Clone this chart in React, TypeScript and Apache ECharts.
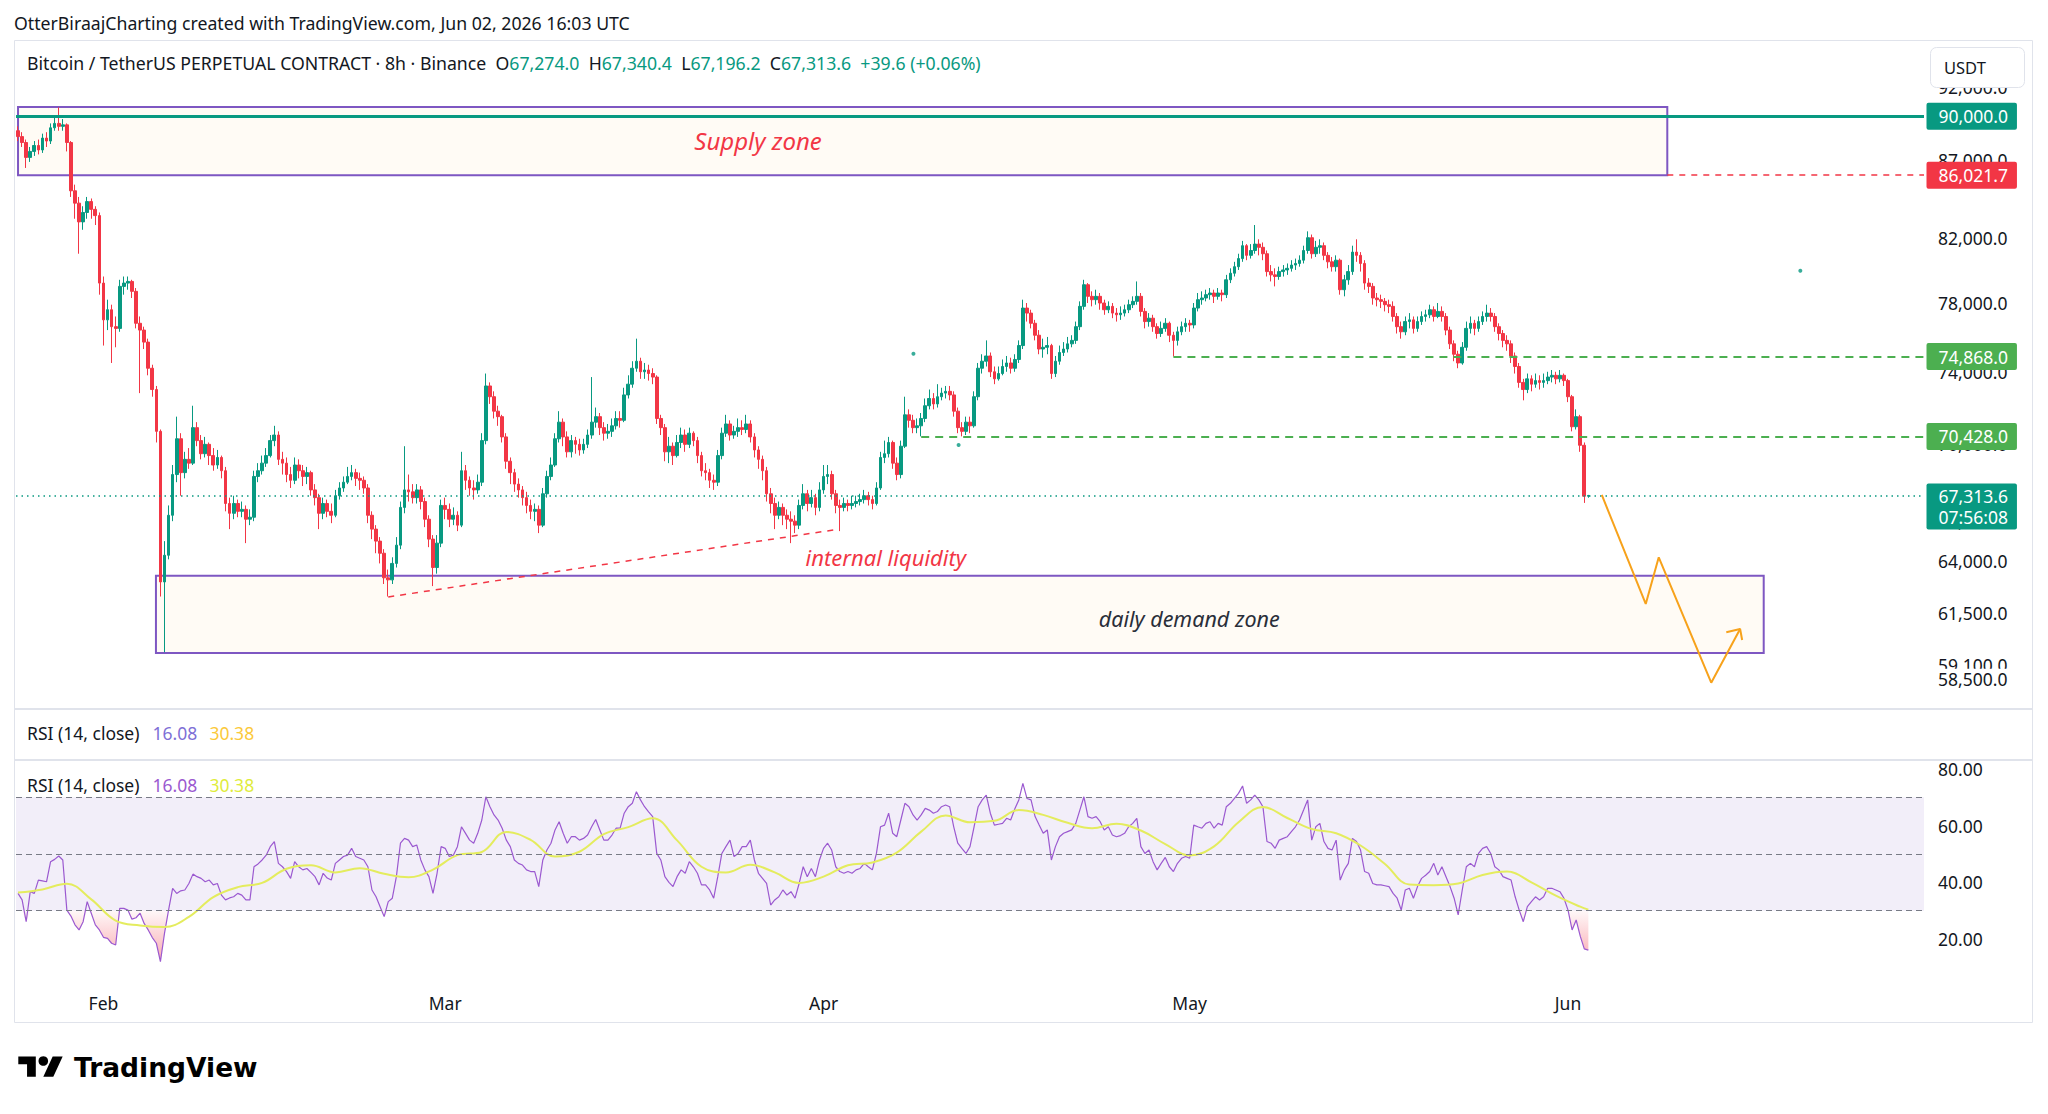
import React, { useEffect, useRef } from "react";
import * as echarts from "echarts";

const FONT = "'Noto Sans', 'DejaVu Sans', sans-serif";
const INK = "#131722";
const UP = "#089981";
const DOWN = "#f23645";
const LEVEL_GREEN = "#4caf50";
const ZONE_BORDER = "#7e57c2";
const ORANGE = "#f7a21b";
const UI_SIZE = 17.5;

// BTCUSDT.P, 8h bars from Jan 25 00:00 UTC, prices in thousands of USDT.
// Each bar opens at the previous bar's close.
const firstOpen = 89.0;
const closes = [
  88.6, 88.2, 87.2, 87.6, 88.0, 87.7, 88.5, 88.3, 89.2, 89.5,
  89.3, 89.4, 88.2, 85.0, 84.2, 83.0, 83.6, 84.3, 83.8, 83.4,
  79.2, 77.0, 77.6, 76.6, 76.5, 79.0, 79.2, 79.3, 78.7, 76.8,
  76.4, 75.7, 74.2, 73.0, 70.7, 63.0, 64.3, 66.3, 68.4, 70.3,
  68.5, 69.2, 69.0, 70.9, 70.2, 69.5, 70.0, 69.4, 68.9, 69.3,
  68.6, 66.9, 66.4, 66.9, 66.5, 66.6, 66.1, 66.2, 68.3, 68.6,
  69.0, 69.4, 70.2, 70.5, 69.2, 69.0, 68.4, 68.1, 68.9, 68.6,
  68.3, 68.5, 67.6, 67.2, 66.4, 66.9, 66.5, 66.3, 67.3, 67.7,
  68.0, 68.3, 68.5, 68.2, 68.1, 67.7, 66.3, 65.6, 65.0, 64.4,
  63.2, 63.1, 63.9, 64.8, 66.7, 67.6, 67.5, 67.2, 67.6, 67.0,
  66.1, 65.1, 63.7, 64.9, 66.8, 66.6, 66.1, 66.3, 65.8, 68.6,
  68.1, 67.7, 67.6, 68.0, 70.2, 73.2, 72.6, 71.8, 71.5, 70.4,
  69.1, 68.5, 67.9, 67.6, 67.2, 66.8, 66.5, 66.6, 65.8, 67.4,
  68.3, 68.9, 70.3, 71.2, 70.4, 69.6, 70.2, 70.0, 69.7, 70.0,
  70.5, 71.2, 71.5, 70.9, 70.6, 70.7, 71.0, 71.4, 71.3, 72.7,
  73.3, 74.2, 74.6, 74.0, 74.1, 73.9, 73.7, 71.4, 70.9, 69.6,
  69.9, 69.4, 70.1, 70.5, 70.0, 70.6, 70.2, 69.4, 68.6, 68.5,
  68.1, 68.0, 69.4, 70.6, 71.1, 70.5, 70.7, 70.9, 70.8, 71.1,
  70.4, 69.7, 69.2, 68.6, 67.4, 66.9, 66.3, 66.7, 66.3, 66.1,
  66.0, 65.8, 66.8, 67.4, 66.9, 67.2, 66.7, 67.6, 68.3, 68.4,
  67.4, 66.8, 66.7, 66.9, 66.8, 66.9, 67.0, 67.1, 67.3, 67.1,
  66.9, 67.7, 69.3, 69.5, 70.1, 69.0, 68.4, 69.9, 71.6, 71.3,
  70.9, 71.0, 71.4, 72.1, 72.5, 72.2, 72.6, 72.8, 72.9, 72.7,
  71.8, 70.9, 70.7, 71.2, 71.0, 72.6, 74.2, 74.6, 74.9, 74.0,
  73.6, 73.9, 74.3, 74.5, 74.2, 74.7, 75.5, 77.7, 77.4, 76.8,
  76.1, 75.3, 75.4, 75.5, 73.9, 74.6, 75.1, 75.3, 75.6, 75.8,
  76.6, 77.8, 79.1, 78.4, 78.2, 78.4, 78.0, 77.6, 77.8, 77.4,
  77.3, 77.4, 77.6, 77.9, 78.1, 78.4, 77.5, 76.9, 77.1, 76.6,
  76.2, 76.5, 76.8, 76.1, 75.8, 76.3, 76.6, 76.8, 76.7, 77.7,
  78.2, 78.3, 78.5, 78.6, 78.4, 78.6, 78.5, 79.4, 79.8, 80.2,
  80.7, 81.5, 80.9, 81.2, 81.6, 81.4, 81.0, 79.9, 79.7, 79.6,
  79.9, 80.0, 80.1, 80.3, 80.4, 80.6, 81.2, 82.0, 81.0, 81.4,
  81.5, 80.9, 80.5, 80.2, 80.6, 78.8, 79.4, 79.9, 81.1, 80.9,
  80.4, 79.2, 79.0, 78.3, 78.2, 78.1, 77.9, 77.8, 77.2, 76.6,
  76.3, 76.9, 77.0, 76.5, 76.9, 77.2, 77.3, 77.6, 77.2, 77.5,
  77.2, 76.4, 75.6, 75.0, 74.5, 75.4, 76.5, 76.8, 76.5, 76.9,
  77.2, 77.4, 77.2, 76.6, 76.2, 75.8, 75.6, 74.9, 74.3, 73.4,
  73.0, 73.6, 73.3, 73.5, 73.4, 73.5, 73.7, 73.8, 73.6, 73.8,
  73.5, 72.6, 70.95, 71.5, 69.95, 67.274, 67.3136,
];
const highs = [
  89.3, 88.9, 88.4, 87.9, 88.3, 88.4, 88.8, 88.9, 89.5, 89.9,
  90.6, 89.8, 89.5, 88.3, 85.4, 84.6, 84.0, 84.6, 84.5, 84.0,
  83.6, 79.6, 78.2, 77.9, 77.2, 79.4, 79.6, 79.6, 79.4, 78.9,
  77.2, 76.6, 75.9, 74.4, 73.2, 70.8, 65.0, 66.8, 68.9, 71.5,
  70.6, 69.6, 69.8, 72.1, 71.2, 70.5, 70.4, 70.1, 69.8, 69.7,
  69.4, 68.8, 67.2, 67.3, 67.1, 67.0, 66.8, 66.6, 68.6, 69.0,
  69.4, 69.8, 70.5, 71.0, 70.7, 69.6, 69.3, 68.8, 69.3, 69.2,
  68.9, 68.8, 68.6, 67.9, 67.4, 67.2, 67.1, 66.9, 67.6, 68.0,
  68.3, 68.8, 68.9, 68.7, 68.5, 68.3, 67.9, 66.5, 65.8, 65.2,
  64.6, 63.6, 64.2, 65.2, 67.0, 69.9, 68.4, 67.9, 67.9, 67.8,
  67.2, 66.3, 65.3, 65.3, 67.1, 67.2, 66.9, 66.7, 66.5, 69.6,
  68.9, 68.3, 68.1, 68.4, 70.6, 73.9, 73.4, 72.9, 72.1, 71.6,
  70.6, 69.3, 68.7, 68.2, 67.8, 67.5, 67.1, 66.9, 66.8, 67.7,
  68.6, 69.3, 70.6, 71.8, 71.4, 70.7, 70.5, 70.4, 70.3, 70.3,
  70.8, 73.7, 72.0, 71.7, 71.2, 71.1, 71.4, 71.8, 71.8, 73.1,
  73.8, 74.6, 75.9, 74.8, 74.5, 74.4, 74.2, 73.8, 71.6, 71.1,
  70.4, 70.1, 70.5, 70.9, 70.8, 70.9, 70.7, 70.4, 69.6, 69.0,
  68.7, 68.4, 69.7, 70.9, 71.6, 71.3, 71.0, 71.4, 71.3, 71.6,
  71.3, 70.6, 69.9, 69.4, 68.8, 67.7, 67.2, 67.0, 66.9, 66.6,
  66.5, 66.3, 67.1, 67.9, 67.6, 67.6, 67.4, 68.0, 68.9, 68.9,
  68.6, 67.6, 67.1, 67.2, 67.1, 67.3, 67.3, 67.4, 67.6, 67.5,
  67.3, 68.0, 69.6, 70.2, 70.4, 70.2, 69.3, 70.2, 72.6, 71.9,
  71.6, 71.4, 71.7, 72.5, 73.0, 72.8, 73.3, 73.1, 73.2, 73.2,
  72.9, 72.0, 71.2, 71.5, 71.5, 72.9, 74.5, 75.0, 75.8, 75.1,
  74.3, 74.3, 74.7, 74.9, 74.8, 75.0, 75.8, 78.2, 78.0, 77.6,
  77.0, 76.4, 75.9, 76.0, 75.6, 74.9, 75.5, 75.7, 76.0, 76.1,
  76.9, 78.1, 79.4, 79.2, 78.7, 78.8, 78.6, 78.2, 78.1, 78.0,
  77.7, 77.8, 77.9, 78.2, 78.4, 79.3, 78.6, 77.7, 77.4, 77.3,
  76.8, 76.9, 77.1, 76.9, 76.3, 76.6, 76.9, 77.1, 77.0, 78.0,
  78.6, 78.7, 78.8, 78.9, 78.8, 78.9, 78.8, 79.7, 80.1, 80.5,
  81.0, 81.8, 81.6, 81.6, 82.8, 81.9, 81.7, 81.2, 80.3, 80.1,
  80.2, 80.3, 80.4, 80.6, 80.7, 80.9, 81.5, 82.4, 82.2, 81.8,
  81.9, 81.7, 81.1, 80.8, 80.9, 80.7, 79.7, 80.3, 81.5, 81.9,
  81.1, 80.6, 79.5, 79.2, 78.6, 78.5, 78.3, 78.2, 78.1, 77.4,
  76.9, 77.2, 77.4, 77.2, 77.2, 77.5, 77.6, 77.9, 77.8, 78.0,
  77.8, 77.4, 76.6, 75.8, 75.2, 75.7, 76.9, 77.2, 77.0, 77.2,
  77.5, 77.9, 77.7, 77.4, 76.8, 76.4, 76.1, 75.8, 75.1, 74.5,
  73.6, 73.9, 73.8, 73.9, 73.8, 73.9, 74.0, 74.1, 74.0, 74.1,
  73.9, 73.6, 72.7, 71.9, 71.6, 70.1, 67.3404,
];
const lows = [
  88.3, 87.9, 86.5, 86.9, 87.3, 87.4, 87.5, 87.9, 88.1, 89.0,
  89.0, 89.0, 87.6, 84.6, 83.2, 81.0, 82.5, 83.2, 83.2, 82.8,
  78.5, 75.5, 76.4, 74.5, 75.4, 76.3, 78.5, 78.8, 78.3, 76.5,
  72.8, 75.3, 73.8, 72.6, 70.1, 62.3, 59.7, 64.1, 66.0, 68.0,
  67.3, 68.2, 68.7, 68.9, 69.9, 69.2, 69.3, 68.9, 68.6, 68.7,
  68.2, 66.5, 65.6, 66.1, 66.2, 66.2, 64.9, 65.8, 66.0, 68.0,
  68.4, 68.8, 69.3, 69.9, 68.9, 68.4, 68.0, 67.7, 67.9, 68.2,
  67.8, 67.9, 67.3, 66.8, 65.6, 66.1, 66.2, 65.9, 66.2, 67.1,
  67.5, 67.9, 68.1, 67.8, 67.6, 67.4, 65.9, 65.1, 64.4, 63.9,
  62.9, 62.3, 62.9, 63.7, 64.6, 66.4, 67.0, 66.9, 66.9, 66.6,
  65.7, 64.7, 62.8, 63.4, 64.7, 66.1, 65.7, 65.8, 65.5, 65.7,
  67.6, 67.3, 67.1, 67.4, 67.8, 70.0, 72.2, 71.4, 71.0, 70.1,
  68.7, 67.9, 67.5, 67.2, 66.8, 66.4, 66.1, 66.0, 65.4, 65.7,
  67.2, 68.1, 68.8, 70.1, 69.9, 69.3, 69.3, 69.5, 69.4, 69.5,
  69.8, 70.3, 70.9, 70.5, 70.2, 70.3, 70.4, 70.8, 70.9, 71.2,
  72.5, 73.1, 74.0, 73.6, 73.6, 73.5, 73.3, 71.1, 70.5, 69.1,
  69.0, 68.9, 69.3, 69.8, 69.6, 69.8, 69.9, 69.0, 68.3, 68.1,
  67.7, 67.6, 67.8, 69.2, 70.4, 70.2, 70.3, 70.4, 70.5, 70.6,
  70.1, 69.3, 68.7, 68.1, 67.0, 66.4, 65.6, 66.1, 65.8, 65.6,
  64.9, 65.4, 65.6, 66.6, 66.5, 66.7, 66.3, 66.5, 67.4, 67.9,
  67.1, 66.4, 65.5, 66.5, 66.5, 66.6, 66.7, 66.8, 66.9, 66.8,
  66.6, 66.8, 67.6, 69.0, 69.3, 68.7, 68.1, 68.2, 69.8, 70.9,
  70.6, 70.6, 70.43, 71.2, 71.9, 71.9, 72.0, 72.4, 72.5, 72.4,
  71.5, 70.6, 70.43, 70.5, 70.6, 70.9, 72.4, 73.9, 74.3, 73.7,
  73.3, 73.5, 73.8, 74.0, 73.9, 74.0, 74.5, 75.3, 76.9, 76.5,
  75.8, 75.0, 74.8, 75.0, 73.6, 73.7, 74.4, 74.9, 75.1, 75.4,
  75.6, 76.4, 77.6, 78.0, 77.8, 77.9, 77.6, 77.3, 77.4, 77.1,
  76.9, 77.0, 77.2, 77.4, 77.7, 77.9, 77.2, 76.5, 76.6, 76.3,
  75.9, 76.0, 76.3, 75.7, 74.87, 75.5, 76.1, 76.3, 76.3, 76.5,
  77.5, 77.9, 78.1, 78.2, 78.0, 78.2, 78.1, 78.3, 79.2, 79.6,
  80.0, 80.5, 80.6, 80.7, 81.0, 80.9, 80.6, 79.6, 79.3, 79.0,
  79.4, 79.6, 79.7, 79.9, 80.0, 80.2, 80.4, 81.0, 80.7, 80.8,
  81.0, 80.6, 80.1, 79.9, 79.9, 78.5, 78.4, 79.1, 79.7, 80.5,
  79.9, 78.8, 78.6, 77.9, 77.8, 77.7, 77.5, 77.4, 76.9, 76.2,
  75.9, 76.1, 76.5, 76.2, 76.3, 76.7, 76.9, 77.1, 76.9, 77.1,
  76.9, 76.1, 75.3, 74.6, 74.2, 74.4, 75.2, 76.2, 76.1, 76.3,
  76.7, 76.9, 76.9, 76.3, 75.8, 75.4, 75.2, 74.5, 73.9, 73.1,
  72.4, 72.8, 72.9, 73.1, 73.0, 73.1, 73.3, 73.4, 73.3, 73.4,
  73.2, 72.3, 70.7, 70.8, 69.6, 66.93, 67.1962,
];
const THOUSAND = 1000;
const emptyBarsRight = 82;

// RSI(14, close), one value per bar
const rsiValues = [
  36.1, 33.8, 26.1, 36.7, 36.1, 40.8, 40.5, 40.2, 47.3, 48.1,
  49.3, 47.9, 30.2, 28.1, 25.0, 23.2, 26.1, 33.2, 29.1, 25.0,
  23.2, 20.6, 20.2, 18.5, 17.9, 30.8, 30.8, 30.2, 27.0, 27.5,
  29.1, 25.5, 23.2, 20.5, 18.5, 12.0, 22.0, 30.2, 37.9, 36.1,
  37.0, 37.3, 39.6, 42.9, 42.0, 41.4, 40.2, 40.8, 39.1, 39.6,
  35.5, 33.8, 34.5, 34.9, 36.1, 35.5, 33.8, 33.8, 45.5, 46.5,
  47.9, 49.6, 52.6, 54.4, 46.7, 45.5, 43.8, 41.4, 47.3, 45.5,
  44.4, 44.9, 43.5, 42.0, 39.1, 43.2, 41.5, 40.8, 46.7, 47.9,
  49.1, 49.6, 52.0, 49.1, 48.5, 47.9, 45.5, 37.3, 34.9, 31.4,
  27.9, 33.2, 34.4, 42.0, 53.8, 55.5, 54.9, 52.6, 53.2, 47.9,
  44.4, 42.0, 36.1, 43.2, 52.6, 52.0, 49.1, 49.6, 52.6, 59.6,
  57.3, 54.9, 53.8, 57.3, 62.0, 70.2, 66.7, 63.8, 62.0, 59.1,
  55.0, 52.6, 47.9, 46.7, 46.1, 44.4, 43.8, 43.8, 38.5, 47.9,
  51.4, 53.8, 58.5, 61.4, 57.3, 53.8, 56.1, 56.1, 54.9, 55.5,
  56.7, 59.6, 62.2, 58.5, 54.9, 54.9, 56.7, 59.1, 59.1, 64.4,
  66.7, 67.9, 72.0, 69.1, 66.7, 64.9, 63.2, 50.2, 47.9, 42.0,
  40.0, 38.5, 42.0, 44.4, 43.2, 47.3, 45.5, 43.2, 39.1, 39.1,
  37.3, 34.4, 42.0, 50.2, 52.6, 54.9, 49.1, 50.2, 52.6, 52.6,
  54.9, 47.9, 43.2, 41.4, 39.6, 32.0, 33.8, 34.9, 37.3, 35.5,
  36.7, 34.4, 39.6, 45.5, 42.0, 44.9, 42.0, 47.9, 52.0, 53.8,
  51.4, 45.5, 43.8, 43.2, 43.8, 43.2, 44.4, 44.9, 46.7, 45.5,
  44.4, 50.2, 59.6, 60.2, 64.4, 57.3, 56.1, 62.0, 67.9, 66.7,
  63.8, 62.0, 63.8, 66.1, 65.5, 64.4, 65.0, 66.7, 67.3, 66.7,
  59.6, 53.8, 52.0, 50.2, 52.6, 59.6, 66.7, 69.1, 70.8, 64.4,
  60.2, 60.5, 60.8, 62.6, 62.0, 65.9, 69.1, 74.9, 69.6, 69.1,
  63.2, 60.2, 57.3, 58.5, 47.9, 52.6, 56.1, 57.3, 57.9, 58.5,
  60.8, 65.5, 70.2, 63.2, 62.6, 63.2, 61.4, 58.5, 59.6, 56.7,
  56.1, 56.5, 57.3, 59.6, 60.8, 62.6, 52.6, 50.2, 51.4, 47.3,
  44.4, 46.7, 48.8, 45.5, 43.8, 46.7, 48.5, 49.1, 48.5, 60.2,
  59.6, 59.1, 60.8, 61.4, 59.1, 60.8, 60.2, 66.7, 67.9, 69.6,
  71.4, 74.0, 67.9, 69.1, 70.8, 69.1, 66.7, 54.4, 53.8, 52.0,
  54.9, 55.5, 56.1, 57.9, 59.6, 62.0, 65.5, 69.1, 54.9, 59.6,
  60.8, 54.4, 52.0, 51.4, 54.9, 40.8, 44.4, 46.7, 55.5, 54.4,
  51.4, 43.8, 43.2, 39.6, 39.1, 39.1, 38.8, 38.5, 36.1, 34.4,
  30.2, 37.3, 37.9, 34.4, 38.5, 41.4, 42.5, 43.8, 46.7, 42.6,
  45.5, 42.0, 38.5, 34.4, 28.5, 37.3, 45.5, 46.7, 45.5, 50.2,
  52.0, 52.6, 50.2, 45.5, 44.4, 42.0, 41.4, 40.8, 34.9, 30.2,
  26.1, 31.4, 33.2, 34.9, 33.8, 34.9, 37.9, 37.9, 37.3, 36.7,
  34.4, 30.2, 23.2, 26.7, 21.0, 16.5, 16.08,
];

// RSI-based moving average, [bar, value]
const rsiMaPoints: [number, number][] = [
  [0, 36.4], [6, 37.5], [12, 39.5], [18, 34.0], [24, 26.5], [30, 24.8],
  [36, 24.2], [42, 27.8], [48, 34.8], [54, 38.3], [60, 39.8], [66, 44.8],
  [72, 46.0], [78, 43.5], [84, 45.0], [90, 43.0], [96, 41.8], [102, 44.5],
  [108, 49.6], [114, 50.7], [120, 57.8], [126, 55.0], [132, 49.1], [138, 50.8],
  [144, 57.0], [150, 59.5], [156, 62.6], [162, 54.8], [168, 45.5], [174, 43.5],
  [180, 46.2], [186, 43.5], [192, 39.8], [198, 42.0], [204, 46.0], [210, 47.0],
  [216, 50.5], [222, 57.9], [228, 63.6], [234, 61.2], [240, 61.7], [246, 65.5],
  [252, 63.8], [258, 61.0], [264, 59.1], [270, 60.7], [276, 58.3], [282, 53.5],
  [288, 49.5], [294, 52.7], [300, 61.2], [306, 66.6], [312, 62.7], [318, 58.8],
  [324, 57.3], [330, 53.0], [336, 46.5], [342, 39.2], [348, 39.0], [354, 39.6],
  [360, 42.6], [366, 43.8], [372, 40.0], [378, 35.3], [384, 31.4], [386, 30.38],
];

const monthStartBars = [21, 105, 198, 288, 381];
const monthNames = ["Feb", "Mar", "Apr", "May", "Jun"];
// price scale labels; 58,500 is listed after 59,100 so it is drawn over it
const priceTicks = [92000, 87000, 82000, 78000, 74000, 70000, 66000, 59100, 58500, 64000, 61500];
const rsiTicks = [80, 60, 40, 20];

const resistanceLevel = 90000.0;
const supplyLevel = 86021.7;
const upperSupport = 74868.0;
const lowerSupport = 70428.0;
const barCountdown = "07:56:08";

// zones as [fromBar, toBar, topPrice, bottomPrice]
const supplyZone = [0, 405.4, 90630, 86021.7];
const demandZone = [33.9, 429.1, 63300, 59660];
const upperSupportFromBar = 284;
const lowerSupportFromBar = 222;
const liquidityLine = [[91, 62280], [202, 65606]];
const projectionPath = [[389.3, 67337], [400.1, 61947], [403.3, 64201], [416.2, 58321], [423.3, 60770]];
const projectionArrow = [[419.9, 60617], [423.3, 60770], [423.8, 60261]];
const markerDots = [[220.1, 75030], [231.2, 69965], [438.1, 79954]];
// [text, bar, price]
const notes: [string, number, number][] = [
  ["Supply zone", 181.9, 88370],
  ["internal liquidity", 213.3, 64217],
  ["daily demand zone", 287.9, 61240],
];

const priceAxisMin = 57159;
const priceAxisMax = 95330;
const rsiAxisMin = 3.765;
const rsiAxisMax = 82.824;

echarts.graphic.registerShape(
  "tvMark",
  echarts.graphic.extendPath("M14 22H7V11H0V4h14v18zM28 22h-8l7.5-18h8L28 22z", {})
);

const fmtPrice = (v: number) =>
  v.toLocaleString("en-US", { minimumFractionDigits: 1, maximumFractionDigits: 1 });

export default function App() {
  const ref = useRef<HTMLDivElement>(null);

  useEffect(() => {
    if (!ref.current) return;
    const chart = echarts.init(ref.current, undefined, { renderer: "svg" });

    const n = closes.length;
    const xMax = n + emptyBarsRight - 0.5;
    const bars = closes.map((c, i) => [
      i,
      (i === 0 ? firstOpen : closes[i - 1]) * THOUSAND,
      c * THOUSAND,
      lows[i] * THOUSAND,
      highs[i] * THOUSAND,
    ]);
    const last = bars[n - 1];
    const lastOpen = last[1], lastClose = last[2], lastLow = last[3], lastHigh = last[4];
    const change = lastClose - lastOpen;
    const changePct = (change / lastOpen) * 100;
    const sign = change >= 0 ? "+" : "−";
    const rsiLast = rsiValues[n - 1].toFixed(2);
    const maLast = rsiMaPoints[rsiMaPoints.length - 1][1].toFixed(2);

    const tag = (value: number, bg: string, text?: string, extra?: object) => ({
      coord: [xMax, value],
      label: {
        show: true,
        position: "right",
        distance: 2,
        formatter: text ?? fmtPrice(value),
        color: "#ffffff",
        backgroundColor: bg,
        padding: [4, 9, 4, 12],
        fontSize: UI_SIZE,
        lineHeight: 19,
        fontFamily: FONT,
        borderRadius: 2,
        ...(extra || {}),
      },
    });

    const noteStyle = [
      { color: DOWN, fontSize: 24 },
      { color: DOWN, fontSize: 22 },
      { color: "#2a2e39", fontSize: 21.5 },
    ];

    const legend = (y: number, rsiColor: string, maColor: string) => ({
      type: "text",
      x: 27,
      y,
      z: 10,
      style: {
        text: `RSI (14, close)  {a|${rsiLast}}  {b|${maLast}}`,
        fill: INK,
        fontSize: UI_SIZE,
        fontFamily: FONT,
        verticalAlign: "middle",
        rich: {
          a: { fill: rsiColor, fontSize: UI_SIZE, fontFamily: FONT, padding: [0, 0, 0, 4] },
          b: { fill: maColor, fontSize: UI_SIZE, fontFamily: FONT, padding: [0, 0, 0, 3] },
        },
      },
    });

    const option: any = {
      animation: false,
      backgroundColor: "#ffffff",
      grid: [
        { left: 16, top: 41, width: 1908, height: 668, outerBoundsMode: "none" },
        { left: 16, top: 761, width: 1908, height: 224, outerBoundsMode: "none" },
      ],
      xAxis: [
        { type: "value", gridIndex: 0, min: -0.5, max: xMax, show: false },
        {
          type: "value",
          gridIndex: 1,
          min: -0.5,
          max: xMax,
          axisLine: { show: false },
          axisTick: { show: false },
          splitLine: { show: false },
          axisLabel: {
            customValues: monthStartBars,
            formatter: (v: number) => monthNames[monthStartBars.indexOf(v)] ?? "",
            margin: 9,
            fontSize: UI_SIZE,
            color: INK,
            fontFamily: FONT,
          },
        },
      ],
      yAxis: [
        {
          type: "log",
          logBase: 10,
          gridIndex: 0,
          min: priceAxisMin,
          max: priceAxisMax,
          position: "right",
          axisLine: { show: false },
          axisTick: { show: false },
          splitLine: { show: false },
          axisLabel: {
            customValues: priceTicks,
            hideOverlap: false,
            formatter: (v: number) => fmtPrice(v),
            margin: 14,
            fontSize: UI_SIZE,
            color: INK,
            fontFamily: FONT,
            backgroundColor: "#ffffff",
            padding: [1, 0, 1, 0],
          },
        },
        {
          type: "value",
          gridIndex: 1,
          min: rsiAxisMin,
          max: rsiAxisMax,
          position: "right",
          axisLine: { show: false },
          axisTick: { show: false },
          splitLine: { show: false },
          axisLabel: {
            customValues: rsiTicks,
            formatter: (v: number) => v.toFixed(2),
            margin: 14,
            fontSize: UI_SIZE,
            color: INK,
            fontFamily: FONT,
          },
        },
      ],
      series: [
        {
          name: "zones",
          type: "line",
          xAxisIndex: 0,
          yAxisIndex: 0,
          data: [],
          z: 1,
          markArea: {
            silent: true,
            itemStyle: { color: "rgba(255,236,204,0.2)", borderColor: ZONE_BORDER, borderWidth: 2 },
            data: [
              [{ coord: [supplyZone[0], supplyZone[2]] }, { coord: [supplyZone[1], supplyZone[3]] }],
              [{ coord: [demandZone[0], demandZone[2]] }, { coord: [demandZone[1], demandZone[3]] }],
            ],
          },
        },
        {
          name: "BTCUSDT.P",
          type: "candlestick",
          xAxisIndex: 0,
          yAxisIndex: 0,
          data: bars,
          encode: { x: 0, y: [1, 2, 3, 4] },
          barWidth: 3.2,
          z: 3,
          itemStyle: { color: UP, color0: DOWN, borderColor: UP, borderColor0: DOWN, borderWidth: 1 },
        },
        {
          name: "levels",
          type: "line",
          xAxisIndex: 0,
          yAxisIndex: 0,
          data: [],
          z: 4,
          markLine: {
            silent: true,
            symbol: ["none", "none"],
            label: { show: false },
            data: [
              { yAxis: resistanceLevel, lineStyle: { color: UP, width: 3, type: "solid" } },
              [
                { coord: [supplyZone[1], supplyLevel], lineStyle: { color: DOWN, width: 1.5, type: [6, 6] } },
                { coord: [xMax, supplyLevel] },
              ],
              [
                { coord: [upperSupportFromBar, upperSupport], lineStyle: { color: LEVEL_GREEN, width: 2, type: [8, 6] } },
                { coord: [xMax, upperSupport] },
              ],
              [
                { coord: [lowerSupportFromBar, lowerSupport], lineStyle: { color: LEVEL_GREEN, width: 2, type: [8, 6] } },
                { coord: [xMax, lowerSupport] },
              ],
              { yAxis: lastClose, lineStyle: { color: UP, width: 1.5, type: [1.5, 4] } },
              [
                { coord: liquidityLine[0], lineStyle: { color: DOWN, width: 1.5, type: [6, 6] } },
                { coord: liquidityLine[1] },
              ],
            ],
          },
        },
        {
          name: "projection",
          type: "line",
          xAxisIndex: 0,
          yAxisIndex: 0,
          data: projectionPath,
          symbol: "none",
          z: 5,
          lineStyle: { color: ORANGE, width: 2 },
        },
        {
          name: "projection arrow",
          type: "line",
          xAxisIndex: 0,
          yAxisIndex: 0,
          data: projectionArrow,
          symbol: "none",
          z: 5,
          lineStyle: { color: ORANGE, width: 2 },
        },
        {
          name: "markers",
          type: "scatter",
          xAxisIndex: 0,
          yAxisIndex: 0,
          data: markerDots,
          symbolSize: 4,
          itemStyle: { color: UP },
          z: 5,
        },
        {
          name: "notes",
          type: "line",
          xAxisIndex: 0,
          yAxisIndex: 0,
          data: [],
          z: 6,
          markPoint: {
            silent: true,
            symbol: "rect",
            symbolSize: 1,
            itemStyle: { color: "rgba(0,0,0,0)" },
            data: notes.map(([text, bar, price], k) => ({
              coord: [bar, price],
              label: {
                show: true,
                position: "inside",
                formatter: text,
                fontStyle: "italic",
                fontFamily: FONT,
                ...noteStyle[k],
              },
            })),
          },
        },
        {
          name: "price tags",
          type: "line",
          xAxisIndex: 0,
          yAxisIndex: 0,
          data: [],
          z: 8,
          markPoint: {
            silent: true,
            symbol: "rect",
            symbolSize: 1,
            itemStyle: { color: "rgba(0,0,0,0)" },
            data: [
              tag(resistanceLevel, UP),
              tag(supplyLevel, DOWN),
              tag(upperSupport, LEVEL_GREEN),
              tag(lowerSupport, LEVEL_GREEN),
              tag(lastClose, UP, `${fmtPrice(lastClose)}\n${barCountdown}`, {
                lineHeight: 21,
                padding: [2, 9, 2, 12],
                offset: [0, 11],
              }),
            ],
          },
        },
        {
          name: "RSI levels",
          type: "line",
          xAxisIndex: 1,
          yAxisIndex: 1,
          data: [],
          z: 1,
          markArea: {
            silent: true,
            itemStyle: { color: "rgba(126,87,194,0.1)" },
            data: [[{ yAxis: 70 }, { yAxis: 30 }]],
          },
          markLine: {
            silent: true,
            symbol: ["none", "none"],
            label: { show: false },
            lineStyle: { color: "#787b86", width: 1, type: [6, 4] },
            data: [{ yAxis: 70 }, { yAxis: 50 }, { yAxis: 30 }],
          },
        },
        {
          name: "RSI oversold",
          type: "line",
          xAxisIndex: 1,
          yAxisIndex: 1,
          data: rsiValues.map((v, i) => [i, Math.min(v, 30)]),
          symbol: "none",
          z: 2,
          lineStyle: { width: 0 },
          areaStyle: {
            origin: 30,
            color: new echarts.graphic.LinearGradient(0, 0, 0, 1, [
              { offset: 0, color: "rgba(242,54,69,0.05)" },
              { offset: 1, color: "rgba(242,54,69,0.6)" },
            ]),
          },
        },
        {
          name: "RSI",
          type: "line",
          xAxisIndex: 1,
          yAxisIndex: 1,
          data: rsiValues.map((v, i) => [i, v]),
          symbol: "none",
          z: 3,
          lineStyle: { color: "#9b59d0", width: 1.2 },
        },
        {
          name: "RSI MA",
          type: "line",
          xAxisIndex: 1,
          yAxisIndex: 1,
          data: rsiMaPoints,
          symbol: "none",
          smooth: 0.4,
          z: 3,
          lineStyle: { color: "#e4ec5e", width: 2 },
        },
      ],
      graphic: {
        elements: [
          {
            type: "rect",
            silent: true,
            z: 0,
            shape: { x: 14.5, y: 40.5, width: 2018, height: 982 },
            style: { fill: "none", stroke: "#e0e3eb", lineWidth: 1 },
          },
          { type: "rect", silent: true, z: 10, shape: { x: 15, y: 708, width: 2017, height: 2 }, style: { fill: "#e0e3eb" } },
          { type: "rect", silent: true, z: 10, shape: { x: 15, y: 759, width: 2017, height: 2 }, style: { fill: "#e0e3eb" } },
          {
            type: "text",
            x: 14,
            y: 23,
            z: 10,
            style: {
              text: "OtterBiraajCharting created with TradingView.com, Jun 02, 2026 16:03 UTC",
              fill: INK,
              fontSize: 17.7,
              fontFamily: FONT,
              verticalAlign: "middle",
            },
          },
          {
            type: "text",
            x: 27,
            y: 63,
            z: 10,
            style: {
              text:
                `Bitcoin / TetherUS PERPETUAL CONTRACT · 8h · Binance  O{v|${fmtPrice(lastOpen)}}  ` +
                `H{v|${fmtPrice(lastHigh)}}  L{v|${fmtPrice(lastLow)}}  C{v|${fmtPrice(lastClose)}}  ` +
                `{v|${sign}${fmtPrice(Math.abs(change))} (${sign}${Math.abs(changePct).toFixed(2)}%)}`,
              fill: INK,
              fontSize: 17.7,
              fontFamily: FONT,
              verticalAlign: "middle",
              rich: { v: { fill: UP, fontSize: 17.7, fontFamily: FONT } },
            },
          },
          legend(733, "#7e6fd6", "#fbc93a"),
          legend(785, "#9b59d0", "#dfec3c"),
          {
            type: "rect",
            z: 100,
            shape: { x: 1930.5, y: 47.5, width: 94, height: 40, r: 6 },
            style: { fill: "#ffffff", stroke: "#e0e3eb", lineWidth: 1 },
          },
          {
            type: "text",
            z: 101,
            x: 1944,
            y: 67,
            style: { text: "USDT", fill: INK, fontSize: 16.5, fontFamily: FONT, verticalAlign: "middle" },
          },
          {
            type: "tvMark",
            z: 10,
            x: 18.3,
            y: 1052,
            scaleX: 1.25,
            scaleY: 1.12,
            style: { fill: "#000000" },
          },
          {
            type: "circle",
            z: 10,
            shape: { cx: 43.3, cy: 1061, r: 4.8 },
            style: { fill: "#000000" },
          },
          {
            type: "text",
            z: 10,
            x: 74,
            y: 1067,
            style: {
              text: "TradingView",
              fill: "#000000",
              fontSize: 26.5,
              fontWeight: 700,
              fontFamily: "'DejaVu Sans', sans-serif",
              verticalAlign: "middle",
            },
          },
        ],
      },
    };

    chart.setOption(option);
    return () => chart.dispose();
  }, []);

  return (
    <div
      ref={ref}
      style={{ position: "absolute", left: 0, top: 0, width: 2048, height: 1114, background: "#ffffff" }}
    />
  );
}
